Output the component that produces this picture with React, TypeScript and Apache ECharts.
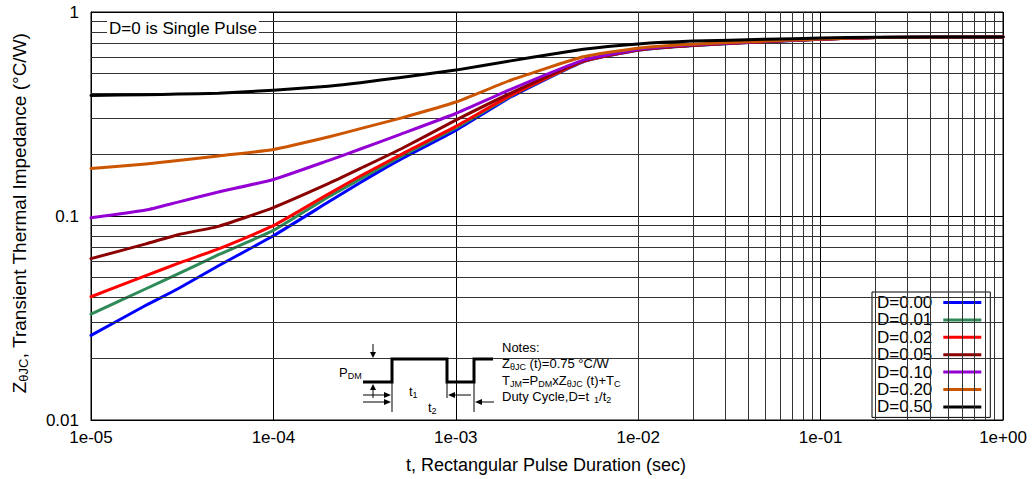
import React, { useEffect, useRef } from "react";
import * as echarts from "echarts";

const FONT = "'Liberation Sans', Arial, Helvetica, sans-serif";

// Pulse duration (s)
const tValues = [1e-5, 2e-5, 3e-5, 5e-5, 1e-4, 2e-4, 3e-4, 5e-4, 1e-3, 2e-3, 5e-3, 1e-2, 2e-2, 5e-2, 1e-1, 2e-1, 1];

// Z_thetaJC (°C/W) per duty cycle
const d000 = [0.026, 0.0365, 0.044, 0.057, 0.08, 0.117, 0.146, 0.19, 0.263, 0.383, 0.57, 0.65, 0.685, 0.715, 0.735, 0.75, 0.755];
const d001 = [0.033, 0.044, 0.052, 0.0646, 0.085, 0.124, 0.152, 0.196, 0.27, 0.387, 0.572, 0.651, 0.686, 0.716, 0.735, 0.75, 0.755];
const d002 = [0.0402, 0.051, 0.0586, 0.069, 0.0897, 0.128, 0.157, 0.2, 0.275, 0.39, 0.573, 0.652, 0.687, 0.716, 0.736, 0.75, 0.755];
const d005 = [0.0618, 0.073, 0.081, 0.089, 0.11, 0.144, 0.171, 0.213, 0.295, 0.4, 0.577, 0.653, 0.688, 0.717, 0.736, 0.75, 0.755];
const d010 = [0.098, 0.107, 0.117, 0.131, 0.151, 0.187, 0.213, 0.252, 0.318, 0.418, 0.581, 0.655, 0.69, 0.718, 0.737, 0.75, 0.755];
const d020 = [0.171, 0.18, 0.187, 0.197, 0.212, 0.244, 0.268, 0.302, 0.362, 0.463, 0.603, 0.665, 0.695, 0.72, 0.738, 0.75, 0.755];
const d050 = [0.39, 0.393, 0.396, 0.4, 0.414, 0.433, 0.45, 0.478, 0.519, 0.576, 0.656, 0.697, 0.72, 0.735, 0.745, 0.753, 0.755];

const seriesNames = ["D=0.00", "D=0.01", "D=0.02", "D=0.05", "D=0.10", "D=0.20", "D=0.50"];
const seriesColors = ["#0000ff", "#2e8b57", "#ff0000", "#8b0000", "#9400d3", "#cc5500", "#000000"];
const seriesValues = [d000, d001, d002, d005, d010, d020, d050];

// Log-grid minor lines
const xMinor = [-5, -4, -3, -2, -1].flatMap((e) => [2, 3, 4, 5, 6, 7, 8, 9].map((m) => m * Math.pow(10, e)));
const yMinor = [-2, -1].flatMap((e) => [2, 3, 4, 5, 6, 7, 8, 9].map((m) => m * Math.pow(10, e)));

const xMin = 1e-5;
const xMax = 1;
const yMin = 0.01;
const yMax = 1;

function fmtX(v: number) {
  const e = Math.round(Math.log10(v));
  return "1e" + (e < 0 ? "-" : "+") + String(Math.abs(e)).padStart(2, "0");
}
function fmtY(v: number) {
  const e = Math.round(Math.log10(v));
  if (e >= 0) return String(Math.pow(10, e));
  return "0." + "0".repeat(-e - 1) + "1";
}

export default function App() {
  const ref = useRef<HTMLDivElement>(null);
  useEffect(() => {
    if (!ref.current) return;
    const chart = echarts.init(ref.current, undefined, { renderer: "svg" });

    const sub = { fontSize: 9, verticalAlign: "bottom", lineHeight: 10, fontFamily: FONT, color: "#000" };
    const nrm = { fontSize: 13, lineHeight: 16, fontFamily: FONT, color: "#000" };

    const lineStyle = { stroke: "#000", lineWidth: 1 };
    const blk = { fill: "#000" };

    const option: any = {
      animation: false,
      textStyle: { fontFamily: FONT },
      grid: { left: 91, right: 30, top: 12, bottom: 59, show: true, borderColor: "#000", borderWidth: 1, backgroundColor: "transparent" },
      xAxis: {
        type: "log",
        logBase: 10,
        min: xMin,
        max: xMax,
        axisLine: { show: true, lineStyle: { color: "#000", width: 1 } },
        axisTick: { show: false },
        minorTick: { show: false },
        splitLine: { show: true, lineStyle: { color: "#000", width: 1 } },
        axisLabel: { formatter: fmtX, fontSize: 17, color: "#000", margin: 9, fontFamily: FONT },
      },
      yAxis: {
        type: "log",
        logBase: 10,
        min: yMin,
        max: yMax,
        axisLine: { show: true, lineStyle: { color: "#000", width: 1 } },
        axisTick: { show: false },
        splitLine: { show: true, lineStyle: { color: "#000", width: 1 } },
        axisLabel: { formatter: fmtY, fontSize: 17, color: "#000", margin: 12, fontFamily: FONT },
      },
      legend: {
        orient: "vertical",
        left: 872,
        top: 292,
        align: "right",
        icon: "rect",
        itemWidth: 38,
        itemHeight: 3,
        itemGap: 0.4,
        backgroundColor: "#fff",
        borderColor: "#000",
        borderWidth: 1,
        borderRadius: 0,
        padding: [2, 9, 2, 5],
        formatter: (n: string) => "{t|" + n + "}",
        textStyle: {
          fontSize: 17,
          lineHeight: 17,
          color: "#000",
          fontFamily: FONT,
          rich: { t: { fontSize: 17, lineHeight: 17, color: "#000", fontFamily: FONT, padding: [0, 6, 0, 0] } },
        },
        data: seriesNames,
      },
      series: [
        {
          name: "grid",
          type: "line",
          data: [],
          z: 1,
          silent: true,
          markLine: {
            silent: true,
            symbol: ["none", "none"],
            label: { show: false },
            lineStyle: { color: "#333", width: 1, type: "solid" },
            emphasis: { disabled: true },
            data: [...xMinor.map((v) => ({ xAxis: v })), ...yMinor.map((v) => ({ yAxis: v }))],
          },
        },
        ...seriesNames.map((name, i) => ({
          name,
          type: "line",
          z: 3 + i,
          showSymbol: false,
          symbol: "none",
          smooth: 0.15,
          color: seriesColors[i],
          lineStyle: { color: seriesColors[i], width: 3, cap: "round", join: "round" },
          data: tValues.map((t, j) => [t, seriesValues[i][j]]),
        })),
      ],
      graphic: [
        // Y axis title
        {
          type: "text",
          x: 19,
          y: 213,
          rotation: Math.PI / 2,
          style: {
            text: "{n|Z}{s|θJC}{n|, Transient Thermal Impedance (°C/W)}",
            align: "center",
            verticalAlign: "middle",
            rich: {
              n: { fontSize: 19, lineHeight: 22, fontFamily: FONT, color: "#000" },
              s: { fontSize: 13, lineHeight: 13, verticalAlign: "bottom", fontFamily: FONT, color: "#000" },
            },
          },
        },
        // X axis title
        {
          type: "text",
          x: 546,
          y: 465,
          style: { text: "t, Rectangular Pulse Duration (sec)", fontSize: 18, fontFamily: FONT, fill: "#000", align: "center", verticalAlign: "middle" },
        },
        // Single pulse note
        {
          type: "text",
          x: 107,
          y: 28,
          z: 50,
          style: {
            text: "D=0 is Single Pulse",
            fontSize: 17,
            fontFamily: FONT,
            fill: "#000",
            align: "left",
            verticalAlign: "middle",
            backgroundColor: "#fff",
            padding: [4, 2, 3, 2],
          },
        },
        // Pulse waveform
        {
          type: "polyline",
          z: 50,
          shape: { points: [[363, 382], [392, 382], [392, 359], [447, 359], [447, 382], [474, 382], [474, 359], [493, 359]] },
          style: { stroke: "#000", lineWidth: 3, fill: "none" },
        },
        { type: "line", z: 50, shape: { x1: 373, y1: 344, x2: 373, y2: 355 }, style: lineStyle },
        { type: "polygon", z: 50, shape: { points: [[370, 352], [376, 352], [373, 358]] }, style: blk },
        { type: "line", z: 50, shape: { x1: 373, y1: 388, x2: 373, y2: 398 }, style: lineStyle },
        { type: "polygon", z: 50, shape: { points: [[370, 390], [376, 390], [373, 384]] }, style: blk },
        { type: "line", z: 50, shape: { x1: 363, y1: 395, x2: 388, y2: 395 }, style: lineStyle },
        { type: "polygon", z: 50, shape: { points: [[384, 392], [384, 398], [391, 395]] }, style: blk },
        { type: "line", z: 50, shape: { x1: 363, y1: 402, x2: 388, y2: 402 }, style: lineStyle },
        { type: "polygon", z: 50, shape: { points: [[384, 399], [384, 405], [391, 402]] }, style: blk },
        { type: "line", z: 50, shape: { x1: 392, y1: 382, x2: 392, y2: 412 }, style: lineStyle },
        { type: "line", z: 50, shape: { x1: 447, y1: 382, x2: 447, y2: 398 }, style: lineStyle },
        { type: "line", z: 50, shape: { x1: 474, y1: 382, x2: 474, y2: 412 }, style: lineStyle },
        { type: "line", z: 50, shape: { x1: 452, y1: 395, x2: 471, y2: 395 }, style: lineStyle },
        { type: "polygon", z: 50, shape: { points: [[455, 392], [455, 398], [448, 395]] }, style: blk },
        { type: "line", z: 50, shape: { x1: 479, y1: 402, x2: 494, y2: 402 }, style: lineStyle },
        { type: "polygon", z: 50, shape: { points: [[482, 399], [482, 405], [475, 402]] }, style: blk },
        {
          type: "text", z: 50, x: 339, y: 372,
          style: { text: "{n|P}{s|DM}", verticalAlign: "middle", rich: { n: nrm, s: sub } },
        },
        {
          type: "text", z: 50, x: 409, y: 391,
          style: { text: "{n|t}{s|1}", verticalAlign: "middle", rich: { n: nrm, s: sub } },
        },
        {
          type: "text", z: 50, x: 428, y: 407,
          style: { text: "{n|t}{s|2}", verticalAlign: "middle", rich: { n: nrm, s: sub } },
        },
        // Notes
        { type: "text", z: 50, x: 502, y: 347, style: { text: "Notes:", fontSize: 13, fontFamily: FONT, fill: "#000", verticalAlign: "middle" } },
        {
          type: "text", z: 50, x: 502, y: 363,
          style: { text: "{n|Z}{s|θJC}{n| (t)=0.75 °C/W}", verticalAlign: "middle", rich: { n: nrm, s: sub } },
        },
        {
          type: "text", z: 50, x: 502, y: 380,
          style: { text: "{n|T}{s|JM}{n|=P}{s|DM}{n|xZ}{s|θJC}{n| (t)+T}{s|C}", verticalAlign: "middle", rich: { n: nrm, s: sub } },
        },
        {
          type: "text", z: 50, x: 502, y: 396,
          style: { text: "{n|Duty Cycle,D=t}{s|\u00a0\u00a01}{n|/t}{s|2}", verticalAlign: "middle", rich: { n: nrm, s: sub } },
        },
      ],
    };
    chart.setOption(option);
    return () => chart.dispose();
  }, []);
  return <div ref={ref} style={{ position: "absolute", left: 0, top: 0, width: 1033, height: 479, background: "#fff" }} />;
}
